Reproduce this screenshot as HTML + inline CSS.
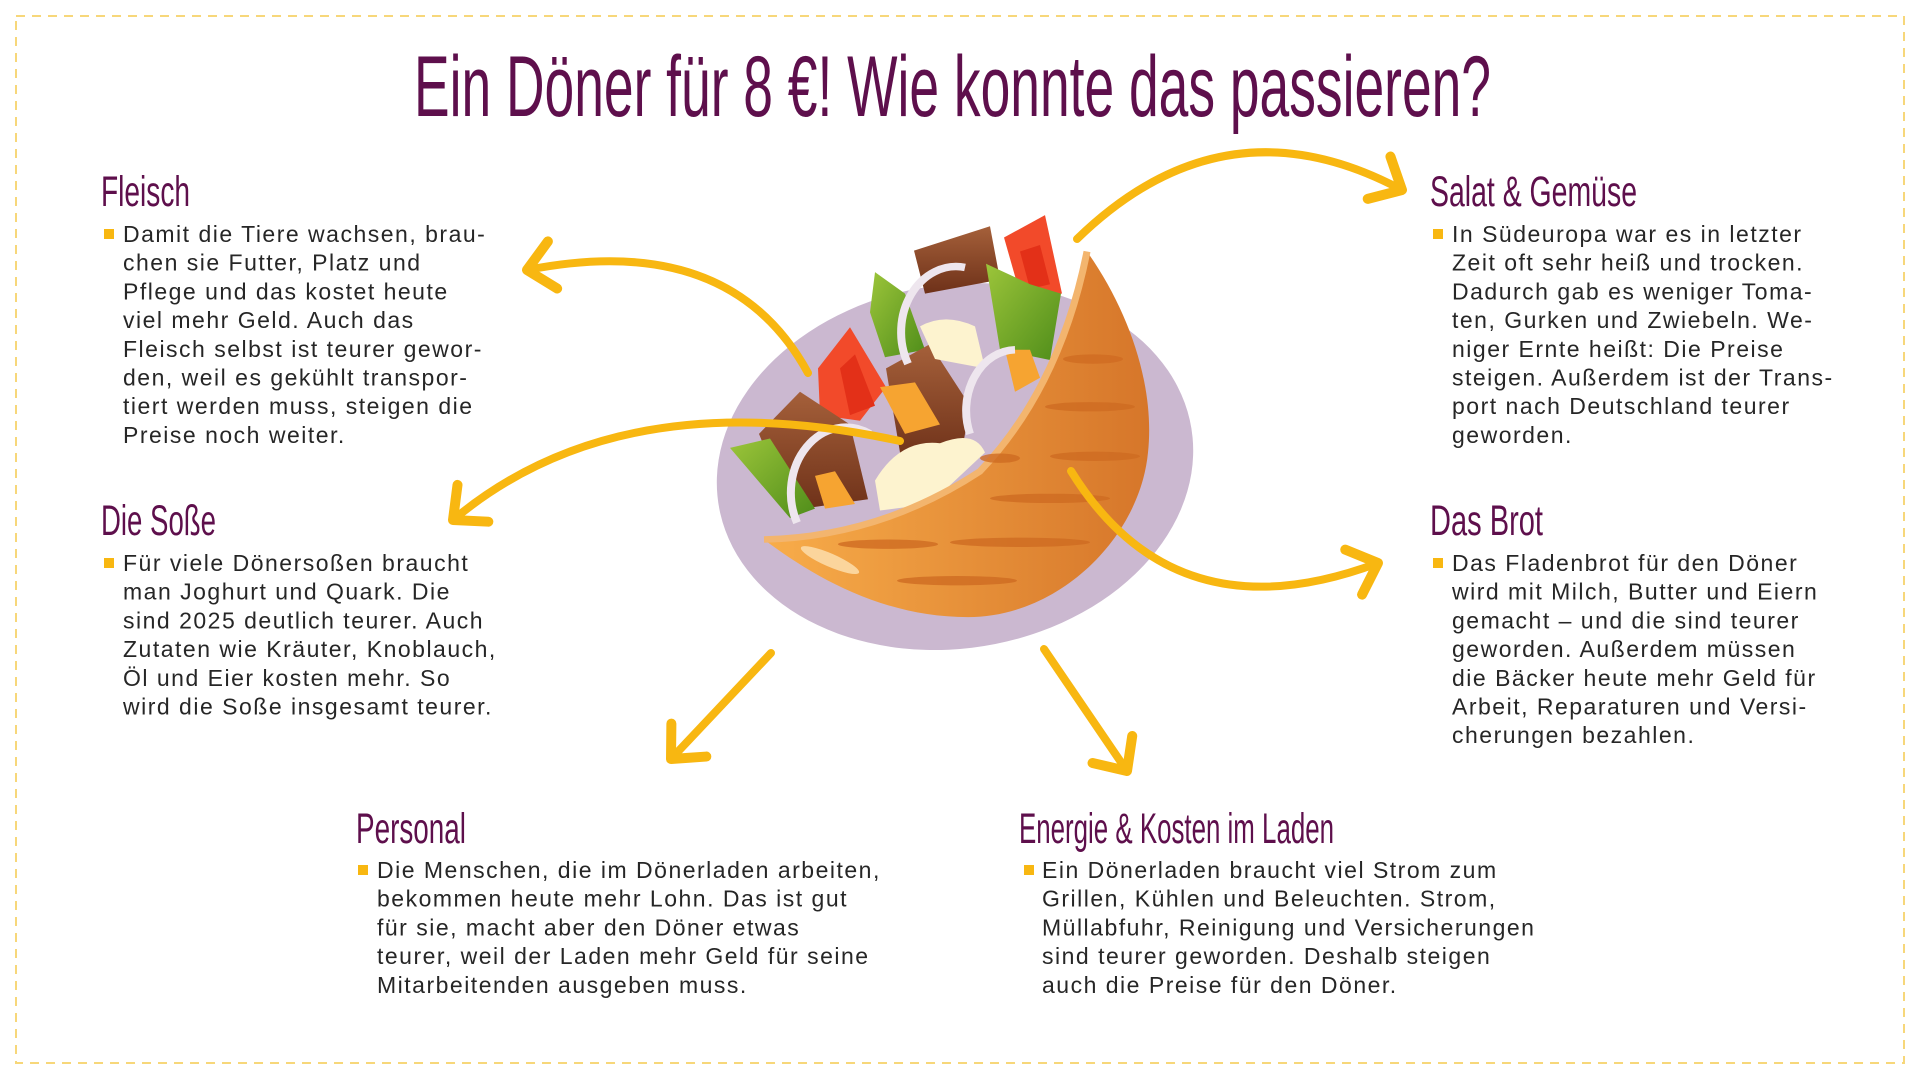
<!DOCTYPE html>
<html><head><meta charset="utf-8"><style>
html,body{margin:0;padding:0;background:#fff;}
svg{display:block}
.h{font-family:"Liberation Sans Narrow","Liberation Sans",sans-serif;fill:#5e0f4c;}
.b{font-family:"Liberation Sans",sans-serif;font-size:23px;fill:#262626;letter-spacing:1.5px}
</style></head><body>
<svg width="1920" height="1080" viewBox="0 0 1920 1080" xmlns="http://www.w3.org/2000/svg">
<defs>
<marker id="ah" markerUnits="userSpaceOnUse" markerWidth="80" markerHeight="80" refX="40" refY="40" orient="auto" viewBox="0 0 80 80">
<path d="M14,16 L40,40 L14,64" fill="none" stroke="#f8b711" stroke-width="10" stroke-linecap="round" stroke-linejoin="round"/>
</marker>
<linearGradient id="bread" x1="0" y1="0" x2="1" y2="0"><stop offset="0" stop-color="#f8ad4a"/><stop offset="1" stop-color="#d6762a"/></linearGradient>
<linearGradient id="meat" x1="0" y1="0" x2="0" y2="1"><stop offset="0" stop-color="#a5603a"/><stop offset="1" stop-color="#6e3119"/></linearGradient>
<linearGradient id="leaf" x1="0" y1="0" x2="1" y2="1"><stop offset="0" stop-color="#9cc53a"/><stop offset="1" stop-color="#4f8d1a"/></linearGradient>
</defs>
<rect x="16" y="16" width="1888" height="1047" fill="none" stroke="#f7d77a" stroke-width="2" stroke-dasharray="9,7"/>

<text class="h" x="414" y="116" font-size="86" textLength="1077" lengthAdjust="spacingAndGlyphs">Ein Döner für 8 €! Wie konnte das passieren?</text>

<!-- illustration -->
<g transform="translate(0,288) scale(1,0.935) translate(0,-294)">
<ellipse cx="955" cy="485" rx="240" ry="194" fill="#cbb8d0" transform="rotate(-12 955 485)"/>
<path d="M914,254 L990,228 L1000,285 L925,300 Z" fill="url(#meat)"/>
<path d="M1004,240 L1045,216 L1062,300 L1020,300 Z" fill="#f24a2a"/>
<path d="M1020,255 L1040,248 L1050,290 L1030,295 Z" fill="#e33018"/>
<path d="M875,277 L905,300 L925,360 L885,368 L870,320 Z" fill="url(#leaf)"/>
<path d="M986,268 L1030,290 L1061,300 L1050,371 L1000,360 Z" fill="url(#leaf)"/>
<path d="M818,380 L850,336 L886,400 L860,436 L820,430 Z" fill="#f24a2a"/>
<path d="M840,380 L855,365 L875,420 L850,430 Z" fill="#e33018"/>
<path d="M759,450 L800,405 L850,440 L868,520 L790,532 Z" fill="url(#meat)"/>
<path d="M886,380 L930,354 L970,420 L960,480 L900,470 Z" fill="url(#meat)"/>
<path d="M730,465 L770,455 L815,530 L790,540 Z" fill="url(#leaf)"/>
<path d="M880,400 L915,395 L940,440 L905,450 Z" fill="#f6a431"/>
<path d="M1005,360 L1030,360 L1040,390 L1015,405 Z" fill="#f6a431"/>
<path d="M815,495 L835,490 L855,525 L825,530 Z" fill="#f6a431"/>
<path d="M875,500 Q900,455 940,460 Q975,445 985,470 L930,525 L880,532 Z" fill="#fdf3cf"/>
<path d="M920,335 Q945,320 975,335 L985,380 L935,370 Z" fill="#fdf3cf"/>
<path d="M908,375 A55,70 0 0 1 965,272" fill="none" stroke="#eee6ee" stroke-width="8"/>
<path d="M970,450 A50,65 0 0 1 1015,360" fill="none" stroke="#eee6ee" stroke-width="8"/>
<path d="M797,545 A55,70 0 0 1 870,450" fill="none" stroke="#eee6ee" stroke-width="8"/>
<path d="M764,563 Q880,560 980,490 Q1060,400 1087,255 C1130,320 1155,400 1148,470 C1140,560 1060,646 968,646 C880,646 810,600 764,563 Z" fill="url(#bread)"/>
<path d="M764,563 Q880,560 980,490 Q1060,400 1087,255" fill="none" stroke="#f3b56e" stroke-width="7"/>
<g fill="#cf6c22" opacity="0.8">
<ellipse cx="1093" cy="370" rx="30" ry="5"/><ellipse cx="1090" cy="421" rx="45" ry="5"/><ellipse cx="1095" cy="474" rx="45" ry="5"/>
<ellipse cx="1050" cy="519" rx="60" ry="5"/><ellipse cx="1020" cy="566" rx="70" ry="5"/><ellipse cx="888" cy="568" rx="50" ry="5"/>
<ellipse cx="957" cy="607" rx="60" ry="5"/><ellipse cx="1000" cy="476" rx="20" ry="5"/>
</g>
<ellipse cx="830" cy="585" rx="32" ry="7" fill="#fbd59c" transform="rotate(25 830 585)"/>
</g>

<!-- arrows -->
<g fill="none" stroke="#f8b711" stroke-width="8" stroke-linecap="round" marker-end="url(#ah)">
<path d="M808,373 Q730,230 527,270"/>
<path d="M900,441 Q620,380 453,520"/>
<path d="M1077,239 Q1225,95 1402,190"/>
<path d="M1071,471 Q1175,639 1378,563"/>
<path d="M771,653 L671,759"/>
<path d="M1044,649 L1127,771"/>
</g>

<!-- headings -->
<text class="h" x="101" y="206" font-size="43" textLength="89" lengthAdjust="spacingAndGlyphs">Fleisch</text>
<text class="h" x="1430" y="206" font-size="43" textLength="207" lengthAdjust="spacingAndGlyphs">Salat &amp; Gemüse</text>
<text class="h" x="101" y="535" font-size="43" textLength="115" lengthAdjust="spacingAndGlyphs">Die Soße</text>
<text class="h" x="1430" y="535" font-size="43" textLength="113" lengthAdjust="spacingAndGlyphs">Das Brot</text>
<text class="h" x="356" y="843" font-size="43" textLength="110" lengthAdjust="spacingAndGlyphs">Personal</text>
<text class="h" x="1019" y="843" font-size="43" textLength="315" lengthAdjust="spacingAndGlyphs">Energie &amp; Kosten im Laden</text>

<g fill="#f8b711">
<rect x="104" y="229" width="10" height="10"/><rect x="1433" y="229" width="10" height="10"/>
<rect x="104" y="558" width="10" height="10"/><rect x="1433" y="558" width="10" height="10"/>
<rect x="358" y="865" width="10" height="10"/><rect x="1024" y="865" width="10" height="10"/>
</g>

<text class="b" x="123" y="242">
<tspan x="123" dy="0">Damit die Tiere wachsen, brau-</tspan>
<tspan x="123" dy="28.7">chen sie Futter, Platz und</tspan>
<tspan x="123" dy="28.7">Pflege und das kostet heute</tspan>
<tspan x="123" dy="28.7">viel mehr Geld. Auch das</tspan>
<tspan x="123" dy="28.7">Fleisch selbst ist teurer gewor-</tspan>
<tspan x="123" dy="28.7">den, weil es gekühlt transpor-</tspan>
<tspan x="123" dy="28.7">tiert werden muss, steigen die</tspan>
<tspan x="123" dy="28.7">Preise noch weiter.</tspan>
</text>
<text class="b" x="1452" y="242">
<tspan x="1452" dy="0">In Südeuropa war es in letzter</tspan>
<tspan x="1452" dy="28.7">Zeit oft sehr heiß und trocken.</tspan>
<tspan x="1452" dy="28.7">Dadurch gab es weniger Toma-</tspan>
<tspan x="1452" dy="28.7">ten, Gurken und Zwiebeln. We-</tspan>
<tspan x="1452" dy="28.7">niger Ernte heißt: Die Preise</tspan>
<tspan x="1452" dy="28.7">steigen. Außerdem ist der Trans-</tspan>
<tspan x="1452" dy="28.7">port nach Deutschland teurer</tspan>
<tspan x="1452" dy="28.7">geworden.</tspan>
</text>
<text class="b" x="123" y="571">
<tspan x="123" dy="0">Für viele Dönersoßen braucht</tspan>
<tspan x="123" dy="28.7">man Joghurt und Quark. Die</tspan>
<tspan x="123" dy="28.7">sind 2025 deutlich teurer. Auch</tspan>
<tspan x="123" dy="28.7">Zutaten wie Kräuter, Knoblauch,</tspan>
<tspan x="123" dy="28.7">Öl und Eier kosten mehr. So</tspan>
<tspan x="123" dy="28.7">wird die Soße insgesamt teurer.</tspan>
</text>
<text class="b" x="1452" y="571">
<tspan x="1452" dy="0">Das Fladenbrot für den Döner</tspan>
<tspan x="1452" dy="28.7">wird mit Milch, Butter und Eiern</tspan>
<tspan x="1452" dy="28.7">gemacht – und die sind teurer</tspan>
<tspan x="1452" dy="28.7">geworden. Außerdem müssen</tspan>
<tspan x="1452" dy="28.7">die Bäcker heute mehr Geld für</tspan>
<tspan x="1452" dy="28.7">Arbeit, Reparaturen und Versi-</tspan>
<tspan x="1452" dy="28.7">cherungen bezahlen.</tspan>
</text>
<text class="b" x="377" y="878">
<tspan x="377" dy="0">Die Menschen, die im Dönerladen arbeiten,</tspan>
<tspan x="377" dy="28.7">bekommen heute mehr Lohn. Das ist gut</tspan>
<tspan x="377" dy="28.7">für sie, macht aber den Döner etwas</tspan>
<tspan x="377" dy="28.7">teurer, weil der Laden mehr Geld für seine</tspan>
<tspan x="377" dy="28.7">Mitarbeitenden ausgeben muss.</tspan>
</text>
<text class="b" x="1042" y="878">
<tspan x="1042" dy="0">Ein Dönerladen braucht viel Strom zum</tspan>
<tspan x="1042" dy="28.7">Grillen, Kühlen und Beleuchten. Strom,</tspan>
<tspan x="1042" dy="28.7">Müllabfuhr, Reinigung und Versicherungen</tspan>
<tspan x="1042" dy="28.7">sind teurer geworden. Deshalb steigen</tspan>
<tspan x="1042" dy="28.7">auch die Preise für den Döner.</tspan>
</text>
</svg>
</body></html>
